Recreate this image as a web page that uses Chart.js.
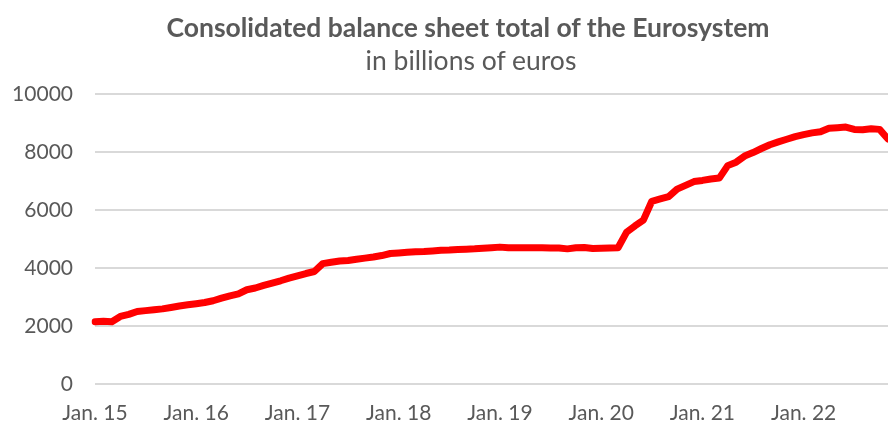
<!DOCTYPE html>
<html>
<head>
<meta charset="utf-8">
<script src="https://cdn.jsdelivr.net/npm/chart.js@4"></script>
<style>
  html,body{margin:0;padding:0;background:#fff;}
  #wrap{position:relative;width:888px;height:425px;overflow:hidden;}
  #chart{position:absolute;left:0;top:0;}
  .ttl{position:absolute;left:48px;right:0;text-align:center;color:#595959;font-family:Lato,"Open Sans",sans-serif;white-space:nowrap;line-height:32px;}
  #t1{top:11px;font-size:26.5px;font-weight:bold;}
  #t2{top:44px;left:54px;font-size:26.5px;}
</style>
</head>
<body>
<div id="wrap">
  <canvas id="chart" width="888" height="425"></canvas>
  <div class="ttl" id="t1">Consolidated balance sheet total of the Eurosystem</div>
  <div class="ttl" id="t2">in billions of euros</div>
</div>
<script>
// monthly, Jan 2015 .. Nov 2022, billions of euros
const startYear = 2015;
const totals2015 = [2150,2160,2150,2330,2400,2500,2530,2560,2590,2640,2690,2730];
const totals2016 = [2770,2810,2870,2960,3040,3110,3250,3310,3400,3480,3560,3650];
const totals2017 = [3730,3810,3880,4150,4200,4240,4260,4300,4340,4380,4430,4500];
const totals2018 = [4520,4540,4560,4570,4590,4610,4620,4640,4650,4660,4680,4700];
const totals2019 = [4720,4700,4700,4700,4700,4700,4690,4690,4660,4700,4710,4670];
const totals2020 = [4680,4690,4700,5230,5450,5650,6300,6380,6460,6720,6850,6980];
const totals2021 = [7020,7070,7100,7530,7650,7860,7980,8120,8250,8350,8440,8530];
const totals2022 = [8600,8660,8700,8820,8840,8860,8780,8770,8800,8780,8450];
const yTicks = [0,2000,4000,6000,8000,10000];

const totals = [].concat(totals2015,totals2016,totals2017,totals2018,totals2019,totals2020,totals2021,totals2022);
const months = totals.map((v,i)=>({y:startYear+Math.floor(i/12), m:i%12}));
const labels = months.map(d=> d.m===0 ? 'Jan. '+String(d.y).slice(2) : '');

const font = {family:'Lato, "Open Sans", sans-serif', size:21};

new Chart(document.getElementById('chart').getContext('2d'), {
  type:'line',
  data:{
    labels: labels,
    datasets:[{
      data: totals,
      borderColor:'#ff0000',
      borderWidth:7,
      pointRadius:0,
      tension:0,
      borderJoinStyle:'round',
      borderCapStyle:'round'
    }]
  },
  options:{
    responsive:false,
    animation:false,
    layout:{padding:{top:94,right:0,bottom:0,left:0}},
    plugins:{legend:{display:false}, tooltip:{enabled:false}},
    scales:{
      x:{
        offset:false,
        afterFit: s=>{ s.height = 41; s.paddingRight = 0; },
        grid:{display:false, drawTicks:true, tickLength:17},
        border:{display:false},
        ticks:{autoSkip:false, maxRotation:0, minRotation:0, padding:0, color:'#595959', font:font}
      },
      y:{
        min:0, max:10000,
        afterFit: s=>{ s.width = 95; },
        afterBuildTicks: s=>{ s.ticks = yTicks.map(v=>({value:v})); },
        grid:{color:'#d9d9d9', lineWidth:2, drawTicks:false},
        border:{display:false},
        ticks:{padding:22, color:'#595959', font:font, callback: v=>String(v)}
      }
    }
  }
});
</script>
</body>
</html>
